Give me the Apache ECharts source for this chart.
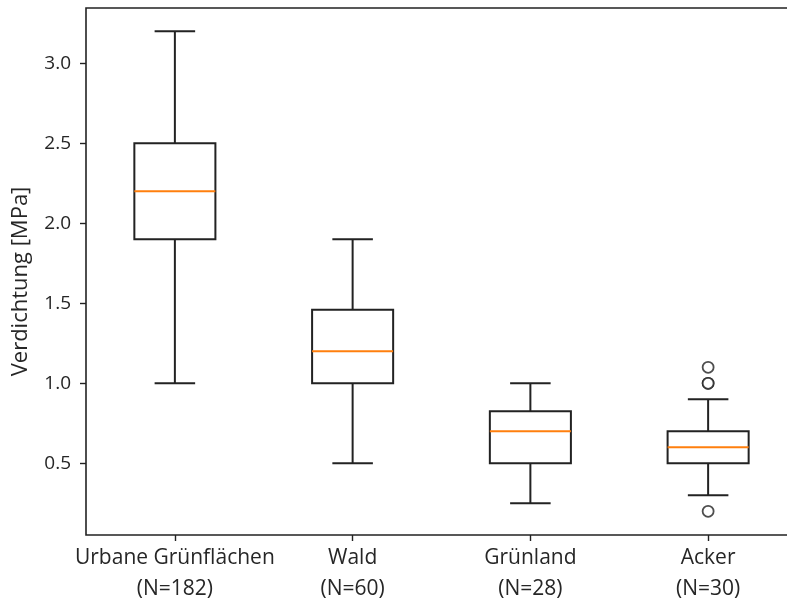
<!DOCTYPE html>
<html>
<head>
<meta charset="utf-8">
<script src="https://cdn.jsdelivr.net/npm/echarts@6/dist/echarts.min.js"></script>
<style>
html, body { margin: 0; padding: 0; background: #fff; }
#container { width: 787px; height: 601px; }
</style>
</head>
<body>
<div id="container"></div>
<script>
// Kategorien und Stichprobengrößen
var categories = ['Urbane Grünflächen', 'Wald', 'Grünland', 'Acker'];
var counts = [182, 60, 28, 30];

// Boxplot-Kennwerte [MPa]
var lowWhisker = [1.0, 0.5, 0.25, 0.3];
var q1 = [1.9, 1.0, 0.5, 0.5];
var median = [2.2, 1.2, 0.7, 0.6];
var q3 = [2.5, 1.46, 0.825, 0.7];
var highWhisker = [3.2, 1.9, 1.0, 0.9];

// Ausreißer [Kategorie-Index, Wert]
var outliers = [[3, 1.1], [3, 1.0], [3, 1.0], [3, 0.2]];

var yTicks = [0.5, 1.0, 1.5, 2.0, 2.5, 3.0];

var boxData = [];
for (var i = 0; i < categories.length; i++) {
	boxData.push([i, lowWhisker[i], q1[i], median[i], q3[i], highWhisker[i]]);
}

var chart = echarts.init(document.getElementById('container'));

function renderBox(params, api) {
	var idx = api.value(0);
	var band = api.size([1, 0])[0];
	var half = band * 0.228; // halbe Boxbreite
	var cap = half / 2;       // halbe Whisker-Kappe
	var pLow = api.coord([idx, api.value(1)]);
	var pQ1 = api.coord([idx, api.value(2)]);
	var pMed = api.coord([idx, api.value(3)]);
	var pQ3 = api.coord([idx, api.value(4)]);
	var pHigh = api.coord([idx, api.value(5)]);
	var x = pMed[0];
	var black = { stroke: '#222', lineWidth: 2, fill: null };
	return {
		type: 'group',
		children: [
			{ type: 'rect', shape: { x: x - half, y: pQ3[1], width: half * 2, height: pQ1[1] - pQ3[1] }, style: black },
			{ type: 'line', shape: { x1: x, y1: pQ3[1], x2: x, y2: pHigh[1] }, style: black },
			{ type: 'line', shape: { x1: x, y1: pQ1[1], x2: x, y2: pLow[1] }, style: black },
			{ type: 'line', shape: { x1: x - cap, y1: pHigh[1], x2: x + cap, y2: pHigh[1] }, style: black },
			{ type: 'line', shape: { x1: x - cap, y1: pLow[1], x2: x + cap, y2: pLow[1] }, style: black },
			{ type: 'line', shape: { x1: x - half, y1: pMed[1], x2: x + half, y2: pMed[1] }, style: { stroke: '#ff7f0e', lineWidth: 2 } }
		]
	};
}

var option = {
	animation: false,
	grid: {
		left: 86,
		top: 8,
		width: 711,
		height: 527,
		outerBoundsMode: 'none',
		containLabel: false,
		show: true,
		borderColor: '#222',
		borderWidth: 1.6,
		backgroundColor: '#fff'
	},
	xAxis: {
		type: 'category',
		data: categories,
		boundaryGap: true,
		axisLine: { show: false },
		axisTick: { show: true, alignWithLabel: true, length: 6, lineStyle: { color: '#222', width: 1.4 } },
		axisLabel: {
			interval: 0,
			margin: 8,
			color: '#262626',
			fontFamily: 'Open Sans',
			fontSize: 21,
			lineHeight: 31,
			formatter: function (v, i) {
				return v + '\n(N=' + counts[i] + ')';
			}
		},
		splitLine: { show: false }
	},
	yAxis: {
		type: 'value',
		min: 0.052,
		max: 3.346,
		name: 'Verdichtung [MPa]',
		nameLocation: 'middle',
		nameGap: 54,
		nameTextStyle: { color: '#262626', fontFamily: 'Open Sans', fontSize: 22, padding: [0, 20, 0, 0] },
		axisLine: { show: false },
		axisTick: { show: true, length: 6, customValues: yTicks, lineStyle: { color: '#222', width: 1.4 } },
		axisLabel: {
			customValues: yTicks,
			margin: 15,
			color: '#262626',
			fontFamily: 'Open Sans',
			fontSize: 19,
			formatter: function (v) { return v.toFixed(1); }
		},
		splitLine: { show: false }
	},
	series: [
		{
			type: 'custom',
			renderItem: renderBox,
			data: boxData,
			encode: { x: 0, y: [1, 2, 3, 4, 5] },
			clip: false
		},
		{
			type: 'scatter',
			data: outliers,
			symbol: 'circle',
			symbolSize: 11,
			itemStyle: { color: '#fff', borderColor: '#222', borderWidth: 1.8 }
		}
	]
};

chart.setOption(option);
window.addEventListener('resize', function () {
	chart.resize();
});
</script>
</body>
</html>
